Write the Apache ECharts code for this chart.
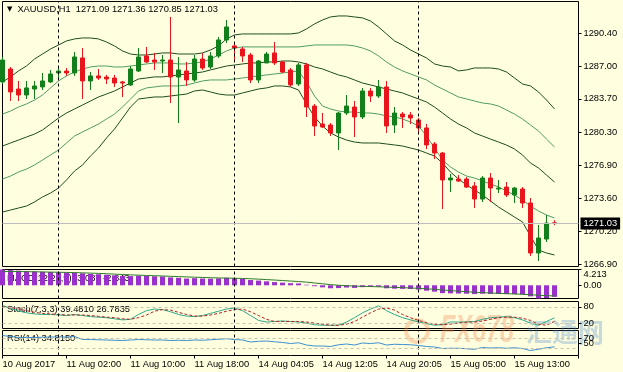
<!DOCTYPE html>
<html><head><meta charset="utf-8">
<script src="https://cdn.jsdelivr.net/npm/echarts@6/dist/echarts.min.js"></script>
<style>html,body{margin:0;padding:0;background:#ffffe0;}#c{width:623px;height:372px;}</style>
</head><body><div id="c"></div>
<script>
// ---- data ----
const symbolName = 'XAUUSD,H1';
const firstLabel = '10 Aug 2017';
const times = [
 '10 Aug 17:00','10 Aug 18:00','10 Aug 19:00','10 Aug 20:00','10 Aug 21:00','10 Aug 22:00','10 Aug 23:00',
 '11 Aug 01:00','11 Aug 02:00','11 Aug 03:00','11 Aug 04:00','11 Aug 05:00','11 Aug 06:00','11 Aug 07:00','11 Aug 08:00',
 '11 Aug 09:00','11 Aug 10:00','11 Aug 11:00','11 Aug 12:00','11 Aug 13:00','11 Aug 14:00','11 Aug 15:00','11 Aug 16:00',
 '11 Aug 17:00','11 Aug 18:00','11 Aug 19:00','11 Aug 20:00','11 Aug 21:00','11 Aug 22:00',
 '14 Aug 01:05','14 Aug 02:05','14 Aug 03:05','14 Aug 04:05','14 Aug 05:05','14 Aug 06:05','14 Aug 07:05','14 Aug 08:05',
 '14 Aug 09:05','14 Aug 10:05','14 Aug 11:05','14 Aug 12:05','14 Aug 13:05','14 Aug 14:05','14 Aug 15:05','14 Aug 16:05',
 '14 Aug 17:05','14 Aug 18:05','14 Aug 19:05','14 Aug 20:05','14 Aug 21:05','14 Aug 22:05','14 Aug 23:05',
 '15 Aug 01:00','15 Aug 02:00','15 Aug 03:00','15 Aug 04:00','15 Aug 05:00','15 Aug 06:00','15 Aug 07:00','15 Aug 08:00',
 '15 Aug 09:00','15 Aug 10:00','15 Aug 11:00','15 Aug 12:00','15 Aug 13:00','15 Aug 14:00','15 Aug 15:00','15 Aug 16:00',
 '15 Aug 17:00','15 Aug 18:00'
];
const opens = [
 1285.42,1286.74,1284.70,1284.09,1284.70,1284.91,1285.42,1286.33,1286.53,1286.33,
 1287.86,1285.52,1286.03,1285.92,1285.82,1285.42,1285.11,1286.53,1288.06,1287.65,
 1287.55,1287.65,1285.92,1286.53,1285.62,1287.75,1286.94,1288.06,1289.69,1289.08,
 1288.77,1288.16,1285.62,1287.35,1288.37,1287.45,1286.64,1285.21,1287.15,1282.97,
 1281.14,1281.04,1280.23,1282.26,1282.87,1281.86,1284.50,1283.99,1284.91,1281.04,
 1282.16,1282.06,1281.55,1280.74,1279.11,1278.19,1275.45,1275.55,1275.55,1274.84,
 1273.51,1275.65,1274.53,1274.73,1273.92,1274.53,1273.11,1268.02,1269.44,1271.09
];
const closes = [
 1287.65,1284.40,1284.09,1284.81,1285.01,1285.52,1286.23,1286.53,1286.33,1287.96,
 1285.52,1286.03,1285.82,1285.72,1285.31,1285.31,1286.74,1287.96,1287.45,1287.45,
 1287.65,1285.92,1286.64,1285.62,1287.75,1286.84,1288.06,1289.69,1291.01,1288.87,
 1288.06,1285.62,1287.55,1288.26,1287.35,1286.43,1285.11,1287.15,1282.87,1280.94,
 1280.84,1280.23,1282.26,1282.97,1281.86,1284.50,1283.99,1284.91,1280.94,1282.26,
 1281.86,1281.75,1280.74,1279.01,1278.19,1275.45,1275.65,1275.34,1274.73,1273.51,
 1275.65,1274.63,1274.63,1273.92,1274.63,1273.11,1268.02,1269.55,1271.07,1271.03
];
const lows = [
 1285.21,1283.48,1283.48,1283.69,1283.69,1284.60,1285.31,1285.62,1286.03,1286.03,
 1283.69,1284.60,1285.62,1285.21,1284.91,1283.89,1285.01,1286.43,1287.35,1286.64,
 1286.33,1283.28,1281.24,1285.01,1285.42,1286.64,1286.74,1287.86,1289.38,1287.65,
 1287.45,1285.31,1285.31,1287.35,1287.15,1286.33,1284.91,1285.01,1281.86,1279.92,
 1280.74,1279.92,1278.50,1282.06,1279.82,1281.65,1283.38,1283.79,1280.23,1280.23,
 1280.74,1281.14,1280.33,1278.60,1277.58,1272.50,1274.23,1275.24,1274.63,1272.60,
 1273.21,1273.21,1274.12,1273.72,1273.11,1272.60,1267.71,1267.21,1269.14,1270.85
];
const highs = [
 1287.96,1286.94,1285.52,1285.52,1285.52,1286.33,1286.64,1286.94,1286.84,1288.47,
 1288.87,1286.43,1286.74,1286.13,1286.13,1285.52,1287.04,1288.87,1288.98,1288.37,
 1288.16,1292.03,1287.96,1287.45,1288.16,1288.37,1288.47,1289.99,1291.72,1289.38,
 1288.98,1288.37,1287.65,1288.47,1289.48,1287.55,1286.84,1287.35,1287.35,1283.18,
 1282.26,1281.24,1282.36,1284.09,1283.48,1284.81,1284.81,1285.62,1285.52,1282.87,
 1282.36,1282.36,1281.75,1281.14,1279.31,1278.29,1276.06,1275.95,1275.75,1275.24,
 1275.85,1276.16,1275.45,1275.24,1274.73,1274.73,1273.61,1270.87,1271.89,1271.36
];
const bandUpper2 = [
 1285.42,1285.93,1286.54,1287.04,1287.75,1288.26,1288.77,1289.18,1289.59,1289.79,
 1289.89,1289.89,1289.79,1289.48,1289.08,1288.57,1288.26,1288.16,1288.16,1288.26,
 1288.37,1288.37,1288.26,1288.26,1288.26,1288.37,1288.67,1289.08,1289.79,1290.20,
 1290.30,1290.30,1290.30,1290.30,1290.30,1290.30,1290.30,1290.40,1290.81,1291.32,
 1291.72,1292.03,1292.13,1292.13,1292.03,1291.93,1291.62,1291.01,1290.30,1289.59,
 1289.18,1288.67,1288.26,1287.86,1287.25,1287.04,1286.94,1286.54,1286.64,1286.84,
 1286.84,1286.84,1286.74,1286.43,1285.82,1285.21,1285.01,1284.40,1283.58,1282.67
];
const bandUpper1 = [
 1282.15,1282.46,1282.87,1283.18,1283.58,1284.09,1284.81,1285.52,1286.03,1286.43,
 1286.74,1286.94,1287.04,1287.04,1286.94,1286.94,1287.04,1287.14,1287.25,1287.35,
 1287.35,1287.35,1287.25,1287.25,1287.35,1287.45,1287.75,1288.16,1288.57,1288.87,
 1288.98,1288.98,1288.98,1288.98,1288.98,1288.98,1288.98,1288.98,1289.08,1289.18,
 1289.18,1289.18,1289.18,1289.18,1289.08,1288.87,1288.57,1288.06,1287.45,1286.94,
 1286.54,1286.23,1285.93,1285.62,1285.11,1284.70,1284.30,1283.89,1283.69,1283.48,
 1283.28,1283.18,1282.97,1282.56,1282.15,1281.65,1281.04,1280.43,1279.61,1278.80
];
const bandMiddle = [
 1278.90,1279.21,1279.51,1279.82,1280.12,1280.53,1281.14,1281.75,1282.26,1282.67,
 1283.07,1283.48,1283.89,1284.19,1284.50,1284.91,1285.31,1285.72,1285.82,1285.93,
 1285.93,1286.03,1286.13,1286.23,1286.33,1286.43,1286.64,1286.84,1287.04,1287.14,
 1287.25,1287.35,1287.35,1287.45,1287.45,1287.55,1287.55,1287.45,1287.25,1286.94,
 1286.74,1286.43,1286.13,1285.93,1285.62,1285.31,1285.11,1284.91,1284.70,1284.50,
 1284.30,1283.99,1283.69,1283.38,1282.87,1282.26,1281.65,1281.14,1280.74,1280.23,
 1279.92,1279.61,1279.31,1279.00,1278.60,1277.99,1277.17,1276.67,1275.95,1275.24
];
const bandLower1 = [
 1275.55,1275.85,1276.26,1276.56,1276.97,1277.48,1277.99,1278.50,1279.21,1279.92,
 1280.33,1280.74,1281.14,1281.65,1282.15,1282.87,1283.68,1284.50,1284.81,1284.91,
 1285.01,1285.01,1285.01,1285.11,1285.31,1285.52,1285.62,1285.62,1285.62,1285.72,
 1285.82,1285.93,1286.03,1286.13,1286.23,1286.33,1286.43,1286.54,1285.42,1283.99,
 1282.97,1282.67,1282.46,1282.36,1282.36,1282.26,1282.26,1282.15,1281.96,1281.86,
 1281.65,1281.35,1280.94,1279.92,1278.70,1277.48,1276.77,1276.26,1275.85,1275.65,
 1275.35,1275.04,1274.74,1274.33,1273.92,1273.41,1272.80,1272.29,1271.89,1271.58
];
const bandLower2 = [
 1272.19,1272.39,1272.60,1272.80,1273.21,1273.72,1274.12,1274.63,1275.45,1276.36,
 1276.97,1277.89,1278.70,1279.72,1280.63,1281.75,1282.87,1283.68,1283.79,1283.89,
 1283.89,1283.99,1284.09,1284.19,1284.50,1284.60,1284.40,1284.19,1284.09,1284.09,
 1284.30,1284.50,1284.70,1284.81,1285.01,1285.01,1284.91,1284.60,1283.18,1281.86,
 1280.94,1280.23,1279.82,1279.51,1279.31,1279.21,1279.21,1279.21,1279.11,1279.01,
 1278.90,1278.70,1278.50,1278.19,1277.89,1277.17,1276.26,1275.55,1274.94,1274.43,
 1273.92,1273.31,1272.70,1272.19,1271.68,1271.18,1269.75,1268.33,1268.02,1267.82
];
const macdMain = [
 4.213,4.05,3.90,3.80,3.70,3.60,3.55,3.50,3.40,3.40,
 3.20,3.05,2.95,2.80,2.65,2.50,2.45,2.55,2.50,2.40,
 2.35,2.10,2.00,1.80,1.90,1.80,1.75,1.85,2.00,1.90,
 1.70,1.40,1.25,1.05,0.85,0.70,0.55,0.50,0.15,-0.25,
 -0.55,-0.80,-0.75,-0.60,-0.70,-0.50,-0.45,-0.40,-0.80,-0.90,
 -0.95,-1.00,-1.15,-1.45,-1.70,-2.10,-2.15,-2.20,-2.25,-2.35,
 -2.25,-2.30,-2.30,-2.35,-2.35,-2.45,-2.95,-3.529,-3.40,-3.087
];
const macdSignal = [
 3.70,3.68,3.66,3.63,3.60,3.56,3.52,3.48,3.43,3.38,
 3.32,3.25,3.17,3.08,2.98,2.88,2.78,2.70,2.62,2.55,
 2.48,2.40,2.32,2.24,2.16,2.09,2.02,1.96,1.92,1.88,
 1.82,1.74,1.64,1.52,1.40,1.27,1.13,1.00,0.84,0.62,
 0.40,0.18,0.00,-0.12,-0.22,-0.28,-0.34,-0.40,-0.48,-0.56,
 -0.64,-0.72,-0.82,-0.94,-1.08,-1.25,-1.42,-1.58,-1.72,-1.85,
 -1.96,-2.06,-2.15,-2.24,-2.32,-2.40,-2.52,-2.66,-2.78,-2.843
];
const stochMain = [
 85,75,65,58,54,52,52,50,48,52,
 48,44,42,40,36,32,34,52,66,72,
 70,62,52,46,44,48,56,64,72,76,
 66,48,30,24,26,28,26,24,20,14,
 12,12,12,24,40,58,72,84,66,52,
 40,32,24,18,12,14,24,24,24,26,
 34,40,42,44,40,32,20,12,26,39.4810
];
const stochSignal = [
 80,78,72,66,60,56,54,52,50,50,
 50,48,45,42,40,36,34,40,50,64,
 70,68,60,52,46,46,50,56,64,70,
 72,62,48,34,26,26,26,26,24,20,
 16,12,12,16,26,42,58,72,76,68,
 52,40,30,22,16,14,16,20,24,24,
 28,34,40,42,42,38,30,16,12,26.7835
];
const rsiValues = [
 80,76,72,72,72,73,74,74,74,76,
 64,64,63,62,61,60,62,64,63,62,
 62,60,61,60,62,61,63,65,67,64,
 62,54,57,58,55,52,48,51,42,38,
 38,36,43,46,42,50,48,51,42,45,
 44,43,40,36,34,28,29,29,27,25,
 32,30,31,29,31,28,20,25,31,34.8150
];
const priceTicks = [1266.90, 1270.20, 1273.60, 1276.90, 1280.30, 1283.70, 1287.00, 1290.40];
const priceRange = [1266.65, 1293.60];
const macdTicks = [-3.529, 0, 4.213];
const stochTicks = [20, 80, 100];
const rsiTicks = [30, 50, 70, 100];
const stochLevels = [20, 80];
const rsiLevels = [30, 70];
const emptySlots = ['', '', ''];

// ---- build ----
const FONT = 'Liberation Sans';
const FS = 9.3;
const n = times.length;
const cats = times.concat(emptySlots);
const candles = times.map((t, i) => [opens[i], closes[i], lows[i], highs[i]]);
const daySeps = [];
for (let i = 1; i < n; i++) if (times[i].slice(0, 6) !== times[i - 1].slice(0, 6)) daySeps.push(i);
const last = n - 1;

const sepLines = daySeps.map(i => ({ xAxis: times[i], lineStyle: { color: '#000', type: [3, 3], width: 1 } }));
const levelLines = lv => lv.map(v => ({ yAxis: v, lineStyle: { color: '#c9c2a8', type: [3, 3], width: 1 } }));
const mkLine = data => ({ symbol: 'none', silent: true, label: { show: false }, animation: false, data });

const grids = [
  { top: 1.5, height: 265 },
  { top: 269.5, height: 29 },
  { top: 301.5, height: 27 },
  { top: 330.5, height: 25 }
].map(g => Object.assign({ left: 2.5, right: 44.5, show: true, borderColor: '#000', borderWidth: 1,
  backgroundColor: 'transparent', containLabel: false, outerBoundsMode: 'none' }, g));

const xAxes = grids.map((g, k) => ({
  type: 'category', gridIndex: k, data: cats, boundaryGap: false,
  show: k === 3,
  axisLine: { show: false },
  axisTick: { show: true, interval: 7, length: 3, lineStyle: { color: '#000' } },
  axisLabel: { interval: 7, align: 'left', margin: 4, fontSize: FS, fontFamily: FONT, color: '#000',
    formatter: (v, idx) => idx === 0 ? firstLabel : v },
  splitLine: { show: false }
}));

const lblBase = { fontSize: FS, fontFamily: FONT, color: '#000', margin: 5, hideOverlap: false };
const richEdge = { t: { padding: [10, 0, 0, 0], fontSize: FS, fontFamily: FONT, color: '#000' },
                   b: { padding: [0, 0, 10, 0], fontSize: FS, fontFamily: FONT, color: '#000' } };
function yAx(k, min, max, ticks, fmt) {
  return {
    type: 'value', gridIndex: k, position: 'right', min, max,
    axisLine: { show: false }, splitLine: { show: false },
    axisTick: { show: true, length: 3, customValues: ticks, lineStyle: { color: '#000' } },
    axisLabel: Object.assign({ customValues: ticks, formatter: fmt, rich: richEdge }, lblBase)
  };
}
const yAxes = [
  yAx(0, priceRange[0], priceRange[1], priceTicks, v => v.toFixed(2)),
  yAx(1, macdTicks[0], macdTicks[2], macdTicks, v => v === macdTicks[2] ? '{t|' + v + '}' : v === macdTicks[0] ? '{b|' + v + '}' : v.toFixed(2)),
  yAx(2, 0, 100, stochTicks, v => v === 100 ? '{t|100}' : String(v)),
  yAx(3, 0, 100, rsiTicks, v => v === 100 ? '{t|100}' : String(v))
];

const dark = '#1c4d1c', light = '#4f9d63';
const band = (name, data, color, extra) => Object.assign({
  name, type: 'line', xAxisIndex: 0, yAxisIndex: 0, data, showSymbol: false, symbol: 'none',
  lineStyle: { color, width: 1 }, z: 2, animation: false
}, extra || {});

const series = [
  band('U2', bandUpper2, dark),
  band('U1', bandUpper1, light),
  band('M', bandMiddle, dark, { markLine: mkLine(sepLines.concat([{
      yAxis: closes[last], lineStyle: { color: '#bdbdbd', type: 'solid', width: 1 },
      label: { show: true, position: 'end', distance: 2, formatter: closes[last].toFixed(2),
        backgroundColor: '#000', color: '#fff', padding: [2, 3, 1, 3], fontSize: FS, fontFamily: FONT } }])) }),
  band('L1', bandLower1, light),
  band('L2', bandLower2, dark),
  { name: 'price', type: 'candlestick', xAxisIndex: 0, yAxisIndex: 0, data: candles, barWidth: 4, clip: true, z: 3,
    itemStyle: { color: '#12801a', color0: '#e8161c', borderColor: '#12801a', borderColor0: '#e8161c', borderWidth: 1 } },
  { name: 'MACD', type: 'bar', xAxisIndex: 1, yAxisIndex: 1, data: macdMain, barWidth: 5,
    itemStyle: { color: '#9b30cc' }, markLine: mkLine(sepLines), animation: false },
  { name: 'Signal', type: 'line', xAxisIndex: 1, yAxisIndex: 1, data: macdSignal, showSymbol: false, symbol: 'none',
    lineStyle: { color: '#2c7a2c', width: 1 }, z: 4 },
  { name: 'StochMain', type: 'line', xAxisIndex: 2, yAxisIndex: 2, data: stochMain, showSymbol: false, symbol: 'none',
    lineStyle: { color: '#2eaa8a', width: 1 }, markLine: mkLine(sepLines.concat(levelLines(stochLevels))) },
  { name: 'StochSignal', type: 'line', xAxisIndex: 2, yAxisIndex: 2, data: stochSignal, showSymbol: false, symbol: 'none',
    lineStyle: { color: '#b02020', width: 1, type: [3, 2] } },
  { name: 'RSI', type: 'line', xAxisIndex: 3, yAxisIndex: 3, data: rsiValues, showSymbol: false, symbol: 'none',
    lineStyle: { color: '#3a8fd0', width: 1 }, markLine: mkLine(sepLines.concat(levelLines(rsiLevels))) }
];

const ttl = (text, left, top, rich, z) => ({ text, left, top, padding: 0, z: z === undefined ? 1 : z,
  textStyle: { fontSize: FS, fontFamily: FONT, color: '#000', fontWeight: 'normal', rich: rich || {} } });
const titles = [
  ttl('{tri|▼}' + symbolName + '  ' + [opens[last], highs[last], lows[last], closes[last]].map(v => v.toFixed(2)).join(' '),
      7, 5, { tri: { fontSize: 7, color: '#000', fontFamily: 'DejaVu Sans', padding: [0, 5, 0, 0] } }, 6),
  ttl('MACD(12,26,9) ' + macdMain[last].toFixed(3) + ' ' + macdSignal[last].toFixed(3), 7, 273.5),
  ttl('Stoch(7,3,3) ' + stochMain[last].toFixed(4) + ' ' + stochSignal[last].toFixed(4), 7, 304.5),
  ttl('RSI(14) ' + rsiValues[last].toFixed(4), 7, 333.5)
];

const chart = echarts.init(document.getElementById('c'), null, { renderer: 'canvas' });
chart.setOption({
  backgroundColor: '#ffffe0',
  animation: false,
  title: titles,
  grid: grids,
  xAxis: xAxes,
  yAxis: yAxes,
  series,
  graphic: [
    { type: 'circle', shape: { cx: 417, cy: 331, r: 11 }, silent: true, z: 0,
      style: { fill: 'none', stroke: 'rgba(240,140,80,0.35)', lineWidth: 4 } },
    { type: 'text', x: 440, y: 332, scaleX: 0.66, silent: true, z: 0,
      style: { text: 'FX678', fontSize: 38, fontWeight: 'bold', fontStyle: 'italic', fontFamily: FONT,
        fill: 'rgba(240,130,80,0.33)', verticalAlign: 'middle' } },
    { type: 'text', x: 526, y: 332, silent: true, z: 0,
      style: { text: '汇通网', fontSize: 26, fontWeight: 'bold', fontFamily: 'Noto Sans CJK SC',
        fill: 'rgba(70,130,200,0.3)', verticalAlign: 'middle' } }
  ]
});
</script></body></html>
